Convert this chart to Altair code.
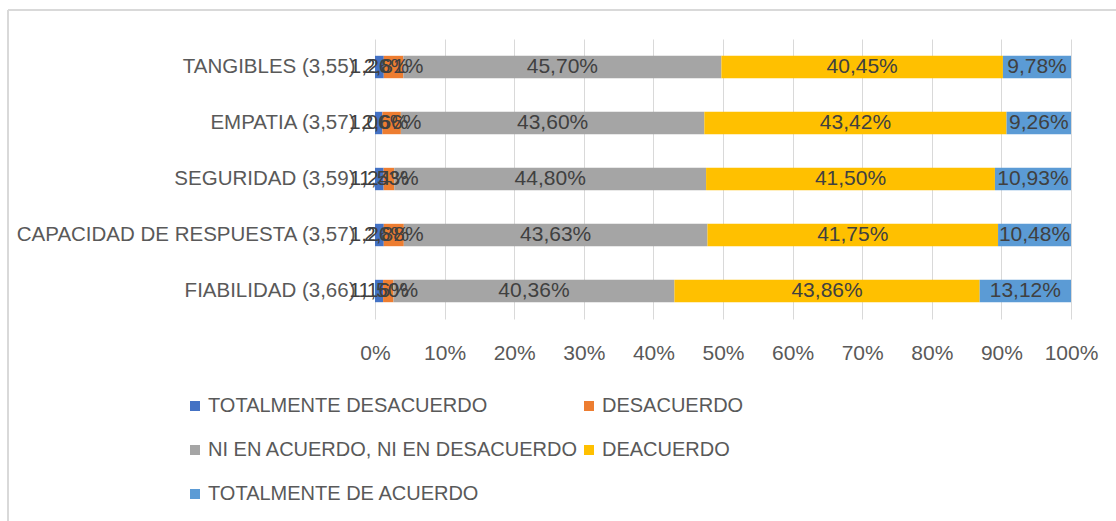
import altair as alt
import pandas as pd

categories = ["TANGIBLES (3,55)", "EMPATIA (3,57)", "SEGURIDAD (3,59)",
              "CAPACIDAD DE RESPUESTA (3,57)", "FIABILIDAD (3,66)"]
series = ["TOTALMENTE DESACUERDO", "DESACUERDO", "NI EN ACUERDO, NI EN DESACUERDO",
          "DEACUERDO", "TOTALMENTE DE ACUERDO"]
totalmente_desacuerdo = [1.26, 1.06, 1.24, 1.26, 1.16]
desacuerdo = [2.81, 2.66, 1.53, 2.88, 1.50]
ni_ni = [45.70, 43.60, 44.80, 43.63, 40.36]
deacuerdo = [40.45, 43.42, 41.50, 41.75, 43.86]
totalmente_acuerdo = [9.78, 9.26, 10.93, 10.48, 13.12]
colors = ["#4472C4", "#ED7D31", "#A5A5A5", "#FFC000", "#5B9BD5"]

cols = [totalmente_desacuerdo, desacuerdo, ni_ni, deacuerdo, totalmente_acuerdo]
rows = []
for si, (s, vals) in enumerate(zip(series, cols)):
    for c, v in zip(categories, vals):
        rows.append({"cat": c, "serie": s, "v": v / 100.0, "idx": si,
                     "lbl": f"{v:.2f}".replace(".", ",") + "%"})
df = pd.DataFrame(rows)

FONT = "Liberation Sans"
TXT = "#595959"

base = alt.Chart(df).transform_stack(
    stack="v", groupby=["cat"], as_=["v0", "v1"], sort=[alt.SortField("idx")]
).transform_calculate(mid="(datum.v0 + datum.v1) / 2")

yenc = alt.Y("cat:N", sort=categories, title=None,
             scale=alt.Scale(paddingInner=0.6, paddingOuter=0.3),
             axis=alt.Axis(labelFontSize=20.5, labelColor=TXT, labelFont=FONT,
                           domain=False, ticks=False, labelPadding=20, labelLimit=400))

bars = base.mark_bar().encode(
    x=alt.X("v0:Q", scale=alt.Scale(domain=[0, 1], nice=False),
            axis=alt.Axis(format=".0%", values=[i / 10 for i in range(11)],
                          labelFontSize=21, labelColor=TXT, labelFont=FONT,
                          labelOverlap=False, labelFlush=False,
                          grid=True, gridColor="#D9D9D9", domain=False, ticks=False,
                          labelPadding=23), title=None),
    x2="v1:Q",
    y=yenc,
    color=alt.Color("serie:N", sort=series,
                    scale=alt.Scale(domain=series, range=colors),
                    legend=alt.Legend(title=None, orient="none", legendX=-190, legendY=357,
                                      columns=2, direction="horizontal",
                                      columnPadding=0, rowPadding=24,
                                      symbolType="square", symbolSize=100,
                                      symbolStrokeWidth=0, labelFontSize=20,
                                      labelColor=TXT, labelFont=FONT, labelLimit=500,
                                      symbolOffset=0, labelOffset=3)),
)

texts = base.mark_text(fontSize=21, color="#404040", font=FONT).encode(
    x=alt.X("mid:Q"),
    y=alt.Y("cat:N", sort=categories),
    text="lbl:N",
)

border_top = alt.Chart(df).mark_rule(color="#D9D9D9", strokeWidth=2).encode(
    x=alt.value(-367), x2=alt.value(745), y=alt.value(-29))
border_left = alt.Chart(df).mark_rule(color="#D9D9D9", strokeWidth=2).encode(
    x=alt.value(-367), y=alt.value(-29), y2=alt.value(490))

chart = alt.layer(bars, texts, border_top, border_left).properties(
    width=696, height=280,
    autosize=alt.AutoSizeParams(type="none"),
    padding={"left": 375, "top": 39, "right": 45, "bottom": 202},
    background="white",
).configure_view(stroke=None)

chart.save("out.html", embed_options={"renderer": "svg", "actions": False})
